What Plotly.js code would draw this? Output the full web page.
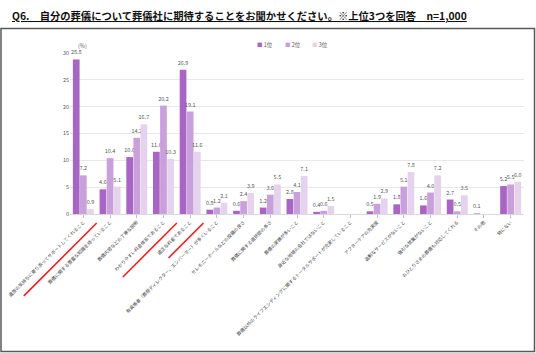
<!DOCTYPE html>
<html><head><meta charset="utf-8">
<script src="https://cdn.plot.ly/plotly-3.0.1.min.js"></script>
<style>html,body{margin:0;padding:0;background:#fff;}#chart{width:536px;height:353px;}</style>
</head><body><div id="chart"></div>
<script>
const categories = [
  "遺族の気持ちに寄り添ってサポートしてくれること",
  "葬儀に関する豊富な知識を持っていること",
  "葬儀内容などの丁寧な説明",
  "わかりやすい料金体系であること",
  "適正な料金であること",
  "有資格者（葬祭ディレクター、エンバーマー）が多くいること",
  "セレモニーホールなどの設備の良さ",
  "葬儀に関する選択肢の多さ",
  "葬儀の実績が多いこと",
  "身近な地域の会社ではないこと",
  "葬儀以外のライフエンディングに関するトータルサポートが充実していること",
  "アフターケアの充実度",
  "過剰なサービスがないこと",
  "強引な営業がないこと",
  "おひとりさまの葬儀も対応してくれる",
  "その他",
  "特にない"
];
const rank1 = [28.8, 4.6, 10.6, 11.6, 26.9, 0.8, 0.6, 1.2, 2.8, 0.4, null, 0.5, 1.8, 1.6, 2.7, 0.1, 5.2];
const rank2 = [7.2, 10.4, 14.2, 20.2, 19.1, 1.2, 2.4, 3.6, 4.1, 0.6, null, 1.9, 5.1, 4.0, 0.5, null, 5.5];
const rank3 = [0.9, 5.1, 16.7, 10.3, 11.6, 2.1, 3.9, 5.5, 7.1, 1.5, null, 2.9, 7.8, 7.2, 3.5, null, 6.0];
const seriesNames = ["1位", "2位", "3位"];
const colors = ["#A865C4", "#C99FDC", "#E5D2EC"];
const highlighted = [0, 3, 4];
const highlightLen = [2.73, 2.02, 1.31];

const FONT = '"Noto Sans CJK JP", "Noto Sans", sans-serif';
const data = [rank1, rank2, rank3].map((vals, k) => ({
  type: 'bar', name: seriesNames[k], x: categories, y: vals,
  marker: {color: colors[k]},
  text: vals.map(v => v == null ? '' : v.toFixed(1)),
  textposition: 'outside', constraintext: 'none', cliponaxis: false,
  textfont: {size: 5.5, color: '#595959', family: FONT},
  hoverinfo: 'none'
}));

// plot area geometry (pixels) for decorations
const L = 70, R = 524, T = 53, B = 214;
const px = p => (p - L) / (R - L);
const py = p => (B - p) / (B - T);
const n = categories.length;
const catPaper = c => (c + 0.5) / n;

const shapes = [
  {type: 'rect', xref: 'paper', yref: 'paper', x0: px(1), x1: px(534.5), y0: py(351.5), y1: py(28.5),
   line: {color: '#595959', width: 1.5}, fillcolor: 'rgba(0,0,0,0)', layer: 'below'}
];
const yEnd = py(223);
highlighted.forEach((i, j) => {
  const xe = catPaper(i + 0.5);
  const xs = catPaper(i + 0.5 - highlightLen[j]);
  const dyPaper = (xe - xs) * (R - L) / (B - T);
  shapes.push({type: 'line', xref: 'paper', yref: 'paper', x0: xs, x1: xe, y0: yEnd - dyPaper, y1: yEnd,
    line: {color: '#FF1A1A', width: 1.6}});
});

const annotations = [
  {xref: 'paper', yref: 'paper', x: px(10), y: py(15), xanchor: 'left', yanchor: 'middle', showarrow: false,
   text: '<b><u>Q6.　自分の葬儀について葬儀社に期待することをお聞かせください。※上位3つを回答　n=1,000</u></b>',
   font: {size: 10.3, color: '#111', family: FONT}},
  {xref: 'paper', yref: 'paper', x: px(76), y: py(46), xanchor: 'left', yanchor: 'middle', showarrow: false,
   text: '(%)', font: {size: 5.5, color: '#595959', family: FONT}}
];
seriesNames.forEach((nm, k) => {
  annotations.push({xref: 'paper', yref: 'paper', x: px(255 + k * 27.5), y: py(45), xanchor: 'left', yanchor: 'middle',
    showarrow: false, text: '<span style="color:' + colors[k] + '">■</span> ' + nm,
    font: {size: 5.5, color: '#595959', family: FONT}});
});

const layout = {
  width: 536, height: 353,
  margin: {l: L, r: 536 - R, t: T, b: 353 - B},
  paper_bgcolor: '#fff', plot_bgcolor: '#fff',
  showlegend: false,
  barmode: 'group', bargap: 0.2, bargroupgap: 0.06,
  font: {family: FONT},
  xaxis: {type: 'category', range: [-0.5, n - 0.5], autorange: false, tickangle: -45, automargin: false,
    tickfont: {size: 4.6, color: '#404040', family: FONT},
    ticks: 'outside', ticklen: 3, tickcolor: '#bfbfbf', showline: true, linecolor: '#d9d9d9', linewidth: 1},
  yaxis: {range: [0, 30], autorange: false, dtick: 5, automargin: false, gridcolor: '#e8e8e8', gridwidth: 1,
    zeroline: false, tickfont: {size: 5.5, color: '#595959', family: FONT}, ticks: '', showline: false},
  shapes: shapes, annotations: annotations
};
Plotly.newPlot('chart', data, layout, {staticPlot: true});
</script></body></html>
